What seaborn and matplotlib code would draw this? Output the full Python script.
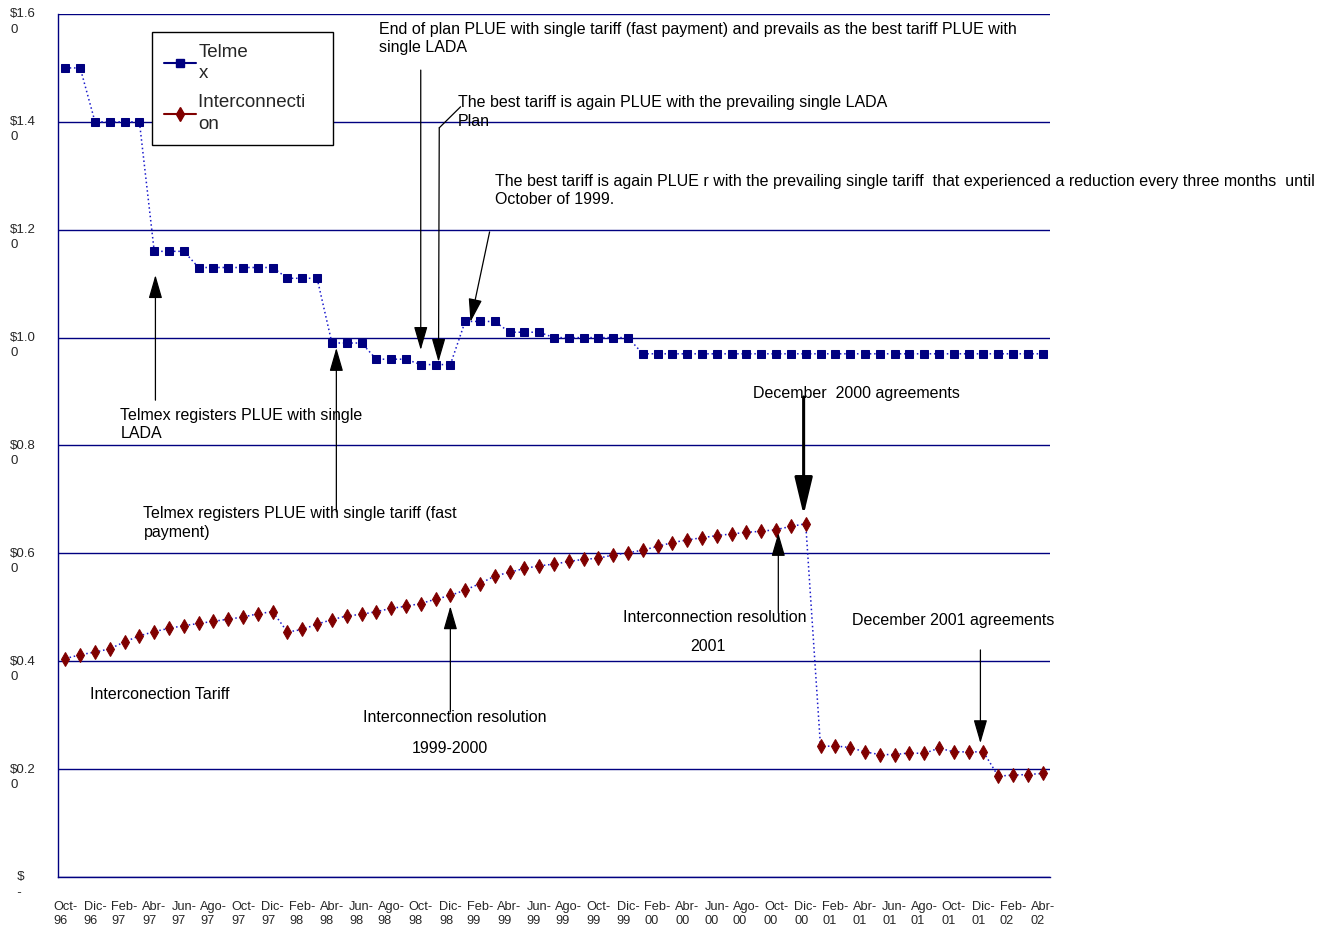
import numpy as np
import pandas as pd
import matplotlib
matplotlib.use("Agg")
import matplotlib.pyplot as plt
import seaborn as sns
from matplotlib.lines import Line2D
from matplotlib.patches import ArrowStyle
from matplotlib.transforms import ScaledTranslation

# ---------------- data ----------------
tick_labels = ["Oct-\n96", "Dic-\n96", "Feb-\n97", "Abr-\n97", "Jun-\n97", "Ago-\n97", "Oct-\n97",
               "Dic-\n97", "Feb-\n98", "Abr-\n98", "Jun-\n98", "Ago-\n98", "Oct-\n98", "Dic-\n98",
               "Feb-\n99", "Abr-\n99", "Jun-\n99", "Ago-\n99", "Oct-\n99", "Dic-\n99", "Feb-\n00",
               "Abr-\n00", "Jun-\n00", "Ago-\n00", "Oct-\n00", "Dic-\n00", "Feb-\n01", "Abr-\n01",
               "Jun-\n01", "Ago-\n01", "Oct-\n01", "Dic-\n01", "Feb-\n02", "Abr-\n02"]

telmex = [1.50, 1.50, 1.40, 1.40, 1.40, 1.40, 1.16, 1.16, 1.16, 1.13,
          1.13, 1.13, 1.13, 1.13, 1.13, 1.11, 1.11, 1.11, 0.99, 0.99,
          0.99, 0.96, 0.96, 0.96, 0.95, 0.95, 0.95, 1.03, 1.03, 1.03,
          1.01, 1.01, 1.01, 1.00, 1.00, 1.00, 1.00, 1.00, 1.00, 0.97,
          0.97, 0.97, 0.97, 0.97, 0.97, 0.97, 0.97, 0.97, 0.97, 0.97,
          0.97, 0.97, 0.97, 0.97, 0.97, 0.97, 0.97, 0.97, 0.97, 0.97,
          0.97, 0.97, 0.97, 0.97, 0.97, 0.97, 0.97]

interconnection = [0.405, 0.412, 0.417, 0.423, 0.436, 0.447, 0.455, 0.461, 0.466, 0.470,
                   0.474, 0.478, 0.482, 0.488, 0.492, 0.454, 0.459, 0.469, 0.477, 0.484,
                   0.487, 0.492, 0.498, 0.502, 0.507, 0.515, 0.522, 0.532, 0.544, 0.558,
                   0.565, 0.572, 0.577, 0.580, 0.585, 0.589, 0.591, 0.597, 0.601, 0.606,
                   0.613, 0.620, 0.625, 0.629, 0.633, 0.636, 0.639, 0.641, 0.644, 0.650,
                   0.655, 0.242, 0.243, 0.240, 0.232, 0.227, 0.227, 0.230, 0.229, 0.239,
                   0.232, 0.232, 0.232, 0.187, 0.189, 0.190, 0.192]

y_ticks = [0.0, 0.2, 0.4, 0.6, 0.8, 1.0, 1.2, 1.4, 1.6]
y_tick_labels = ["  $\n  -", "$0.2\n0", "$0.4\n0", "$0.6\n0", "$0.8\n0",
                 "$1.0\n0", "$1.2\n0", "$1.4\n0", "$1.6\n0"]

series_names = ["Telme\nx", "Interconnecti   \non"]

# ---------------- style ----------------
sns.set_style("white")
plt.rcParams["font.family"] = ["Liberation Sans", "DejaVu Sans"]

NAVY = "#000080"
MAROON = "#800000"
DOT = "#1a1acc"

fig = plt.figure(figsize=(13.29, 9.30), dpi=100)
ax = fig.add_axes([58 / 1329, 1 - 877 / 930, (1050 - 58) / 1329, (877 - 14) / 930])

months = np.arange(len(telmex))
df = pd.DataFrame({"m": months, "telmex": telmex, "inter": interconnection})

sns.lineplot(data=df, x="m", y="telmex", ax=ax, color=DOT, lw=1.1,
             linestyle=(0, (1, 1.8)), marker="s", markersize=5.4,
             markerfacecolor=NAVY, markeredgecolor=NAVY, legend=False, zorder=3)
sns.lineplot(data=df, x="m", y="inter", ax=ax, color=DOT, lw=1.1,
             linestyle=(0, (1, 1.8)), marker="d", markersize=7.5,
             markerfacecolor=MAROON, markeredgecolor=MAROON, legend=False, zorder=3)

ax.set_xlim(-0.5, len(telmex) - 0.5)
ax.set_ylim(0, 1.6)
ax.set_xlabel("")
ax.set_ylabel("")

# grid
ax.yaxis.grid(True, color=NAVY, lw=1.0)
ax.xaxis.grid(False)
ax.set_axisbelow(True)
for s in ["top", "right"]:
    ax.spines[s].set_visible(False)
for s in ["left", "bottom"]:
    ax.spines[s].set_color(NAVY)
    ax.spines[s].set_linewidth(1.0)

# x ticks: marks at category boundaries, labels centered on categories
ax.set_xticks(np.arange(-0.5, len(telmex), 2))
ax.set_xticklabels([])
ax.tick_params(axis="x", which="major", direction="out", length=3.6, width=1, color=NAVY)
ax.set_xticks(months[::2], tick_labels, minor=True)
ax.tick_params(axis="x", which="minor", length=0, pad=17, labelsize=9.2)
for lab in ax.get_xticklabels(minor=True):
    lab.set_multialignment("left")
    lab.set_linespacing(1.25)

# y ticks
ax.set_yticks(y_ticks, y_tick_labels)
ax.tick_params(axis="y", direction="out", length=2.9, width=1, color=NAVY, pad=31.6, labelsize=9.5)
off = ScaledTranslation(0, 4 / 72, fig.dpi_scale_trans)
for lab in ax.get_yticklabels():
    lab.set_horizontalalignment("left")
    lab.set_verticalalignment("top")
    lab.set_multialignment("left")
    lab.set_linespacing(1.35)
    lab.set_transform(lab.get_transform() + off)

# legend
handles = [Line2D([0], [0], color=NAVY, lw=1.5, marker="s", markersize=6,
                  markerfacecolor=NAVY, markeredgecolor=NAVY),
           Line2D([0], [0], color=MAROON, lw=1.5, marker="d", markersize=7,
                  markerfacecolor=MAROON, markeredgecolor=MAROON)]
leg = fig.legend(handles, series_names, loc="upper left",
                 bbox_to_anchor=(152 / 1329, 1 - 32 / 930), bbox_transform=fig.transFigure,
                 borderaxespad=0, borderpad=0.62, labelspacing=0.65, handlelength=1.7,
                 handletextpad=0.15, fancybox=False, framealpha=1, edgecolor="black",
                 prop={"size": 13.5})
leg.get_frame().set_linewidth(1.0)
for t in leg.get_texts():
    t.set_linespacing(1.36)

# ---------------- annotations ----------------
FS = 11.5
LS = 1.28
thin = ArrowStyle("-|>", head_length=1.45, head_width=0.42)
thick = ArrowStyle("-|>", head_length=2.3, head_width=0.55)


def arrow(x0, y0, x1, y1, style=thin, lw=0.9):
    ax.annotate("", xy=(x1, y1), xytext=(x0, y0),
                arrowprops=dict(arrowstyle=style, color="black", lw=lw,
                                shrinkA=0, shrinkB=0, mutation_scale=10), zorder=5)


def note(x, y, s, va="top", ha="left"):
    ax.text(x, y, s, fontsize=FS, va=va, ha=ha, linespacing=LS, color="black", zorder=6)


note(21.2, 1.586, "End of plan PLUE with single tariff (fast payment) and prevails as the best tariff PLUE with\nsingle LADA")
arrow(24.0, 1.496, 24.0, 0.977)

note(26.5, 1.449, "The best tariff is again PLUE with the prevailing single LADA\nPlan")
ax.plot([26.69, 25.25], [1.428, 1.389], color="black", lw=0.9, zorder=5)
arrow(25.25, 1.389, 25.2, 0.955)

note(28.99, 1.304, "The best tariff is again PLUE r with the prevailing single tariff  that experienced a reduction every three months  until\nOctober of 1999.")
arrow(28.65, 1.196, 27.36, 1.029)

note(3.72, 0.870, "Telmex registers PLUE with single\nLADA")
arrow(6.08, 0.884, 6.08, 1.116)

note(5.27, 0.687, "Telmex registers PLUE with single tariff (fast\npayment)")
arrow(18.3, 0.677, 18.3, 0.981)

note(46.42, 0.897, "December  2000 agreements", va="center")
arrow(49.86, 0.890, 49.86, 0.671, style=thick, lw=2.2)

note(37.64, 0.482, "Interconnection resolution", va="center")
note(43.4, 0.428, "2001", va="center", ha="center")
arrow(48.15, 0.489, 48.15, 0.638)

note(53.1, 0.476, "December 2001 agreements", va="center")
arrow(61.8, 0.421, 61.8, 0.248)

note(1.69, 0.339, "Interconection Tariff", va="center")

note(20.07, 0.295, "Interconnection resolution", va="center")
note(25.95, 0.239, "1999-2000", va="center", ha="center")
arrow(26.0, 0.306, 26.0, 0.502)

fig.savefig("out.png", dpi=100, facecolor="white")
